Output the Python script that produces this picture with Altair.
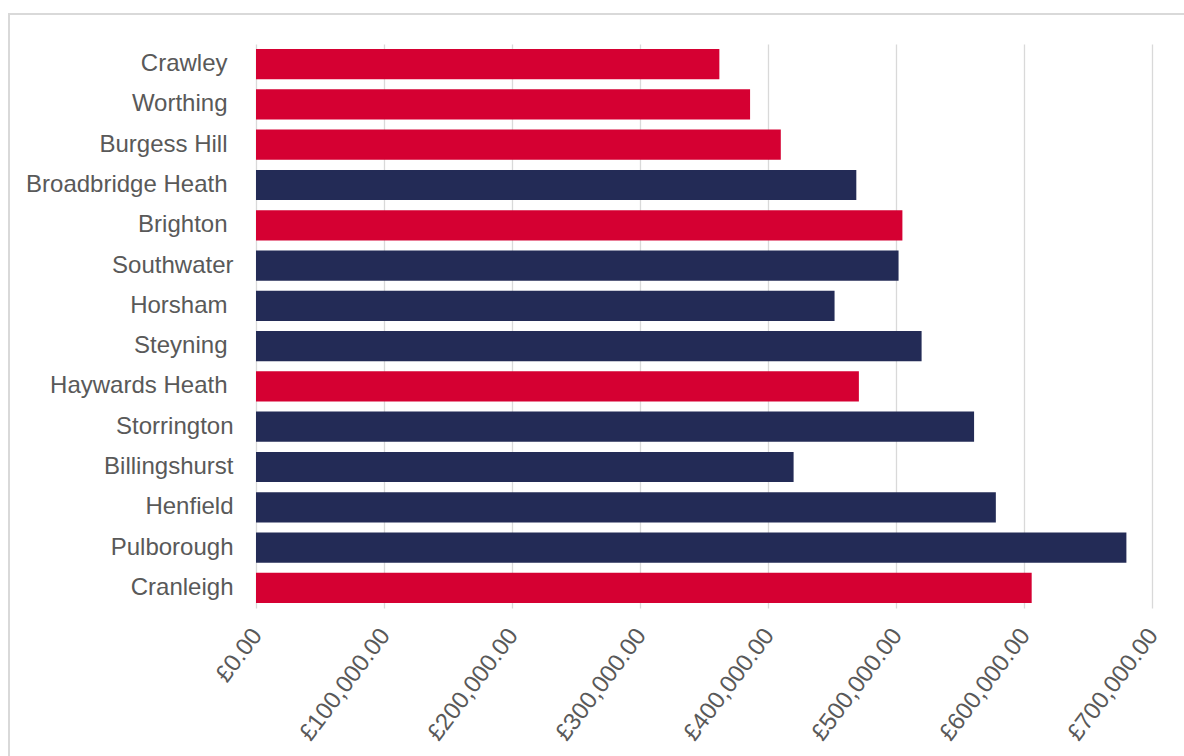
import altair as alt
import pandas as pd

towns = ["Crawley", "Worthing", "Burgess Hill", "Broadbridge Heath", "Brighton",
         "Southwater", "Horsham", "Steyning", "Haywards Heath", "Storrington",
         "Billingshurst", "Henfield", "Pulborough", "Cranleigh"]
prices = [362000, 386000, 410000, 469000, 505000,
          502000, 452000, 520000, 471000, 561000,
          420000, 578000, 680000, 606000]
groups = ["Other", "Other", "Other", "Horsham District", "Other",
          "Horsham District", "Horsham District", "Horsham District", "Other", "Horsham District",
          "Horsham District", "Horsham District", "Horsham District", "Other"]
# labels that carry a trailing space in the original
spaced = ["Crawley", "Worthing", "Burgess Hill", "Broadbridge Heath", "Brighton",
          "Horsham", "Steyning", "Haywards Heath"]
x_ticks = [0, 100000, 200000, 300000, 400000, 500000, 600000, 700000]

df = pd.DataFrame({"town": towns, "price": prices, "group": groups})

TEXT = "#595959"
GRID = "#D9D9D9"
FONT = "Liberation Sans"

spaced_js = "[" + ",".join("'" + s + "'" for s in spaced) + "]"

bars = alt.Chart(df).mark_bar().encode(
    y=alt.Y("town:N", sort=towns,
            scale=alt.Scale(paddingInner=0.25, paddingOuter=0.125),
            axis=alt.Axis(title=None, domain=False, ticks=False,
                          labelPadding={"condition": {"test": "indexof(" + spaced_js + ", datum.value) >= 0",
                                                      "value": 29}, "value": 23},
                          labelFontSize=24, labelColor=TEXT, labelFont=FONT, labelLimit=400)),
    x=alt.X("price:Q", scale=alt.Scale(domain=[0, 700000], nice=False),
            axis=alt.Axis(title=None, domain=False, ticks=False, values=x_ticks,
                          grid=True, gridColor=GRID, gridWidth=1.3,
                          labelAngle=-53, labelAlign="right", labelBaseline="middle",
                          labelPadding=23, labelOffset=1, labelFontSize=24,
                          labelColor=TEXT, labelFont=FONT, labelFlush=False, labelOverlap=False,
                          labelExpr="'\u00a3' + format(datum.value, ',.2f')")),
    color=alt.Color("group:N", scale=alt.Scale(domain=["Other", "Horsham District"],
                                               range=["#D50032", "#232B56"]), legend=None),
)

border_left = alt.Chart(df).mark_rule(color=GRID, strokeWidth=2).encode(
    x=alt.value(-247), y=alt.value(-30), y2=alt.value(900))
border_top = alt.Chart(df).mark_rule(color=GRID, strokeWidth=2).encode(
    y=alt.value(-30), x=alt.value(-248), x2=alt.value(1200))

chart = alt.layer(border_left, border_top, bars).properties(
    width=896, height=564,
    autosize=alt.AutoSizeParams(type="none"),
    padding={"left": 256, "top": 44, "right": 32, "bottom": 148},
    background="white",
).configure_view(strokeWidth=0)

chart.save("out.html", embed_options={"renderer": "svg", "actions": False})
